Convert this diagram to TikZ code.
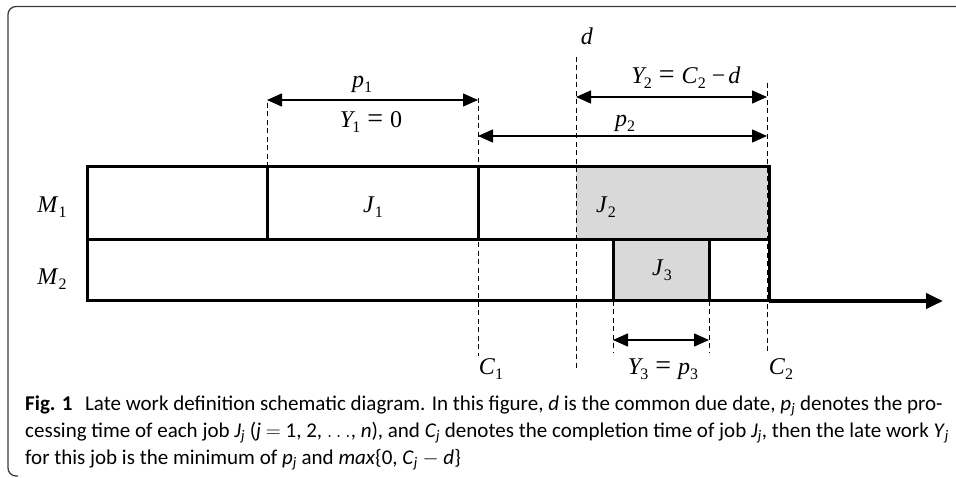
\documentclass[tikz,border=0pt]{standalone}
\usepackage{fontspec}
\setsansfont{Carlito}
\newfontfamily\tms{Liberation Serif}
\usetikzlibrary{arrows.meta, math}
\definecolor{jobgray}{RGB}{217,217,217}
\definecolor{framegray}{RGB}{60,60,60}
% caption variable with subscript
\newcommand{\sv}[2]{\textit{#1}\textsubscript{\textit{#2}}}
% diagram variable with subscript (Times look)
\newcommand{\tv}[3][0pt]{\textit{#2}\kern#1\raisebox{-5pt}{\fontsize{16}{16}\selectfont #3}}
\newcommand{\eq}{\hspace{7pt}{\fontsize{28}{28}\selectfont=}\hspace{7pt}}
\newcommand{\mi}{\hspace{6pt}\char"2212\hspace{3pt}}

\tikzset{
  box/.style={line width=3pt},
  guide/.style={line width=1pt, dash pattern=on 5pt off 3.5pt},
  span/.style={line width=1.4pt, {Triangle[length=15pt,width=13pt]}-{Triangle[length=15pt,width=13pt]}},
  lbl/.style={font=\tms\fontsize{24}{28}\selectfont, inner sep=0pt, anchor=base},
  capline/.style={font=\sffamily\fontsize{21}{27}\selectfont, anchor=base west, inner sep=0pt},
}

\begin{document}
\begin{tikzpicture}[x=1pt,y=-1pt]
\tikzmath{
\xl=87; \xa=267; \xb=478; \xd=576; \xc=613; \xe=709; \xf=769;
\yt=167; \ym=239.5; \yb=301;
}
\useasboundingbox (0,0) rectangle (956,478);

%%%%%%%%%% frame
\draw[framegray, line width=1.3pt, rounded corners=8pt] (18,476) -- (8,476) -- (8,6.5) -- (956,6.5);

%%%%%%%%%% late parts in grey
\fill[jobgray] (\xd,\yt) rectangle (\xf,\ym);
\fill[jobgray] (\xc,\ym) rectangle (\xe,\yb);

%%%%%%%%%% dashed guides
\coordinate (g1 top) at (\xa,103);
\coordinate (g1 bot) at (\xa,\yt);
\coordinate (c1 top) at (\xb,98);
\coordinate (c1 bot) at (\xb,356);
\coordinate (d top) at (\xd,57);
\coordinate (d bot) at (\xd,370);
\coordinate (s3 top) at (\xc,\yb);
\coordinate (s3 bot) at (\xc,353);
\coordinate (c3 top) at (\xe,\yb);
\coordinate (c3 bot) at (\xe,353);
\coordinate (c2 top) at (\xf-2,83);
\coordinate (c2 bot) at (\xf-2,353);
\foreach \g in {g1,c1,d,s3,c3,c2}
  \draw[guide] (\g\space top) -- (\g\space bot);

%%%%%%%%%% machines
\draw[box] (\xl,\yt) rectangle (\xf,\yb);
\draw[box] (\xl,\ym) -- (\xf,\ym);
\draw[box] (\xa,\yt) -- (\xa,\ym);
\draw[box] (\xb,\yt) -- (\xb,\ym);
\draw[box] (\xc,\ym) -- (\xc,\yb);
\draw[box] (\xe,\ym) -- (\xe,\yb);
\coordinate (t end) at (943,\yb);
\draw[line width=4pt, -{Triangle[length=17pt,width=15pt]}] (\xf,\yb) -- (t end);

\node[lbl] (m1) at (52,213) {\tv{M}{1}};
\node[lbl] (m2) at (52,285) {\tv{M}{2}};
\node[lbl] (j1) at (373,213) {\tv{J}{1}};
\node[lbl] (j2) at (606,213) {\tv{J}{2}};
\node[lbl] (j3) at (662,276) {\tv{J}{3}};

%%%%%%%%%% spans
\coordinate (p1 l) at (\xa,100);
\coordinate (p1 r) at (\xb,100);
\draw[span] (p1 l) -- (p1 r);
\node[lbl] (p1) at (362,88) {\tv{p}{1}};
\node[lbl] (y1) at (371,128) {\tv[-3pt]{Y}{1}\eq 0};

\coordinate (y2 l) at (\xd,97);
\coordinate (y2 r) at (\xf-2,97);
\draw[span] (y2 l) -- (y2 r);
\node[lbl] (y2) at (686,84) {\tv[-3pt]{Y}{2}\eq\tv{C}{2}\mi\textit{d}};

\coordinate (p2 l) at (\xb,136);
\coordinate (p2 r) at (\xf-2,136);
\draw[span] (p2 l) -- (p2 r);
\node[lbl] (p2) at (625,127) {\tv{p}{2}};

\coordinate (y3 l) at (\xc,340);
\coordinate (y3 r) at (\xe,340);
\draw[span] (y3 l) -- (y3 r);
\node[lbl] (y3) at (663,374) {\tv[-3pt]{Y}{3}\eq\tv{p}{3}};

\node[lbl] (d) at (587,45) {\textit{d}};
\node[lbl] (c1) at (491,374) {\tv{C}{1}};
\node[lbl] (c2) at (781,374) {\tv{C}{2}};

%%%%%%%%%% caption
\node[capline] (cap1) at (25,410) {\textbf{Fig. 1}\hspace{0.6em}Late work definition schematic diagram. In this figure, \textit{d} is the common due date, \sv{p}{j} denotes the pro-};
\node[capline] (cap2) at (25,437) {cessing time of each job \sv{J}{j} (\textit{j} $=$ 1, 2, $\ldots$, \textit{n}), and \sv{C}{j} denotes the completion time of job \sv{J}{j}, then the late work \sv{Y}{j}};
\node[capline] (cap3) at (25,464) {for this job is the minimum of \sv{p}{j} and \textit{max}\{0, \sv{C}{j} $-$ \textit{d}\}};
\end{tikzpicture}
\end{document}
